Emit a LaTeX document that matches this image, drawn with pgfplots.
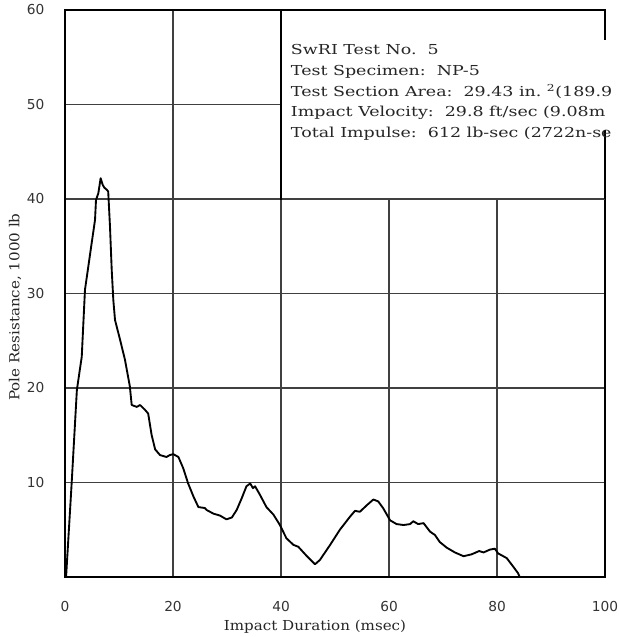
\documentclass[border=0pt]{standalone}
\usepackage{fontspec}
\setmainfont{DejaVu Serif}[FakeStretch=1.1]
\setsansfont{DejaVu Sans}
\newfontfamily\boxfont{DejaVu Serif}[FakeStretch=1.27]
\usepackage{pgfplots}
\pgfplotsset{compat=1.18}

\begin{document}
\begin{tikzpicture}
\begin{axis}[
    scale only axis,
    width=405pt, height=425.25pt,
    xmin=0, xmax=100, ymin=0, ymax=60,
    xtick={0,20,...,100}, ytick={10,20,...,60},
    major tick length=0pt,
    grid=major,
    grid style={black!75, line width=1pt},
    axis line style={black, line width=1.5pt},
    /pgf/number format/assume math mode=true,
    tick label style={font=\sffamily\fontsize{10.3}{12}\selectfont, text=black!80},
    yticklabel style={xshift=-12pt},
    xticklabel style={yshift=-15pt},
    label style={font=\fontsize{10.3}{12}\selectfont, text=black!85},
    xlabel={Impact Duration (msec)},
    xlabel style={at={(axis description cs:0.463,0)}, anchor=center, yshift=-37pt},
    ylabel={Pole Resistance, 1000 lb},
    ylabel style={at={(axis description cs:-0.0926,0.476)}, anchor=center},
    clip=false,
]
\addplot[black, line width=1.4pt, line join=round] coordinates {
(0.2,0) (1.24,10) (2.2,19.8) (3.1,23.3) (3.7,30.4) (5.56,37.8) (5.74,39.9)
(6.17,40.6) (6.6,42.2) (6.98,41.5) (7.28,41.2) (7.7,41.0) (8.0,40.8)
(8.33,37.1) (8.65,32.5) (8.95,29.3) (9.26,27.2) (10.2,25.1) (11.1,23.0)
(12.0,20.2) (12.35,18.2) (13.3,18.0) (13.9,18.2) (14.8,17.7) (15.4,17.3)
(16.05,15.0) (16.7,13.5) (17.6,12.9) (18.8,12.7) (19.4,12.9) (20.05,13.0)
(21.0,12.7) (21.9,11.5) (22.8,9.9) (23.8,8.5) (24.7,7.4) (25.9,7.3)
(26.2,7.1) (27.5,6.7) (28.7,6.5) (29.9,6.1) (30.9,6.3) (31.8,7.1)
(32.7,8.3) (33.6,9.6) (34.3,9.9) (34.8,9.4) (35.2,9.6) (36.1,8.7)
(37.3,7.4) (38.6,6.6) (39.8,5.5) (41.0,4.1) (42.3,3.4) (43.2,3.2)
(44.8,2.2) (46.3,1.35) (47.2,1.8) (49.1,3.4) (50.9,5.0) (52.8,6.4)
(53.7,7.0) (54.6,6.9) (55.9,7.6) (57.1,8.2) (58.0,8.0) (58.9,7.3)
(60.2,6.0) (61.4,5.6) (62.7,5.5) (63.9,5.6) (64.5,5.9) (65.4,5.6)
(66.4,5.7) (67.6,4.8) (68.5,4.45) (69.4,3.7) (70.7,3.1) (72.2,2.6)
(73.8,2.2) (75.3,2.4) (76.7,2.75) (77.5,2.6) (78.7,2.9) (79.6,3.0)
(80.2,2.5) (81.8,2.0) (83.0,1.1) (83.9,0.4) (84.2,0)
};
% pasted-in legend box hides the grid in the upper right
\fill[white] (axis cs:40,40) rectangle ([xshift=3pt,yshift=3pt]axis cs:100,60);
\draw[black!75, line width=1pt] (axis cs:40,40) -- (axis cs:100,40);
\draw[black, line width=1.5pt, line cap=rect]
    (axis cs:40,40) -- (axis cs:40,60) -- (axis cs:100,60) -- (axis cs:100,56.9);
\draw[black, line width=1.5pt] (axis cs:100,47.35) -- (axis cs:100,40);
% the legend text runs off the right edge of the page in the original
\node[anchor=north west, inner sep=0pt, align=left,
      font=\boxfont\fontsize{10.3}{15.6}\selectfont, text=black!85]
    at (axis cs:41.8,56.4)
    {SwRI Test No.\ \ 5\\
     Test Specimen:\ \ NP-5\\
     Test Section Area:\ \ 29.43 in.\ \textsuperscript{2}(189.9\\
     Impact Velocity:\ \ 29.8 ft/sec (9.08m\\
     Total Impulse:\ \ 612 lb-sec (2722n-se};
\coordinate (ll) at (axis cs:0,0);
\coordinate (ur) at (axis cs:100,60);
\end{axis}
\pgfresetboundingbox
\path[use as bounding box] ([xshift=-48.75pt,yshift=-45pt]ll) rectangle ([xshift=9.75pt,yshift=7.5pt]ur);
\end{tikzpicture}
\end{document}
